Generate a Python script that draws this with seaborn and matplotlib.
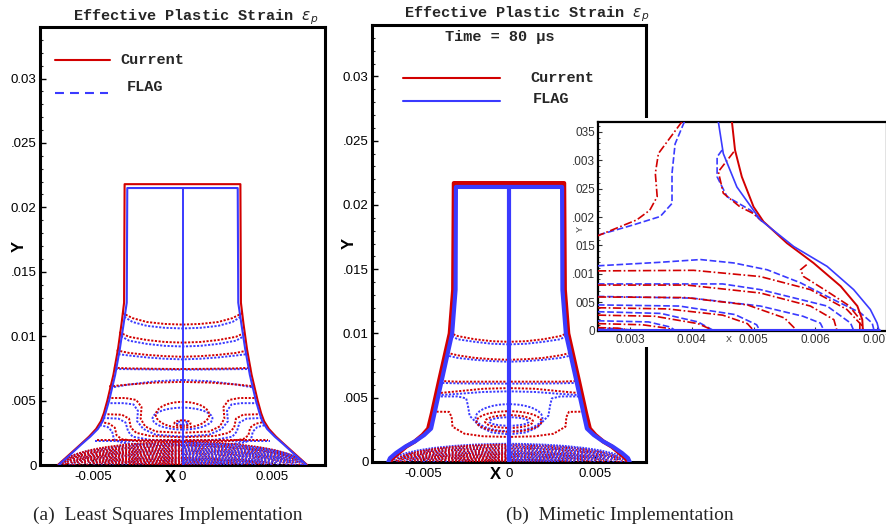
import numpy as np
import matplotlib
matplotlib.use("Agg")
import matplotlib.pyplot as plt
from matplotlib.patches import Arc, Ellipse, Rectangle
from matplotlib.ticker import MultipleLocator
import seaborn as sns

MM = 1e-3
RED = "#d20000"
BLUE = "#3a3aff"
DOT = (0, (1.1, 0.8))

# ---------------- data (millimetres, right half of the axisymmetric bar) ----------------
# (a) least squares implementation
PA_OUT_CUR_Y = [21.8, 12.6, 11.0, 9.0, 7.0, 5.0, 4.0, 3.4, 2.8, 2.2, 1.6, 1.0, 0.5, 0.15, 0.0]
PA_OUT_CUR_X = [3.25, 3.28, 3.42, 3.62, 3.88, 4.22, 4.42, 4.58, 4.85, 5.25, 5.72, 6.2, 6.6, 6.88, 7.0]
PA_OUT_FLAG_Y = [21.5, 12.6, 11.0, 9.0, 7.0, 5.0, 4.0, 3.4, 2.8, 2.2, 1.6, 1.0, 0.5, 0.15, 0.0]
PA_OUT_FLAG_X = [3.1, 3.13, 3.3, 3.52, 3.78, 4.12, 4.33, 4.48, 4.75, 5.18, 5.68, 6.15, 6.55, 6.85, 6.95]

PA_BANDS_CUR = [
    ([0, 1.0, 2.0, 2.8, 3.38], [10.9, 10.95, 11.1, 11.4, 11.8]),
    ([0, 1.0, 2.0, 3.0, 3.55], [9.5, 9.55, 9.7, 9.95, 10.3]),
    ([0, 1.0, 2.0, 3.0, 3.7], [8.4, 8.45, 8.55, 8.7, 8.9]),
    ([0, 1.5, 3.0, 3.85], [7.45, 7.47, 7.5, 7.55]),
    ([0, 1.5, 3.0, 4.12], [6.45, 6.4, 6.25, 6.1]),
    ([0, 2.0, 3.5, 4.8], [1.95, 1.95, 1.95, 1.95]),
]
PA_BANDS_FLAG = [
    ([0, 1.0, 2.0, 2.8, 3.27], [10.6, 10.65, 10.8, 11.1, 11.5]),
    ([0, 1.0, 2.0, 3.0, 3.45], [9.2, 9.25, 9.4, 9.65, 10.0]),
    ([0, 1.0, 2.0, 3.0, 3.6], [8.2, 8.25, 8.35, 8.5, 8.6]),
    ([0, 1.5, 3.0, 3.76], [7.4, 7.42, 7.44, 7.45]),
    ([0, 1.5, 3.0, 4.05], [6.6, 6.5, 6.25, 6.0]),
    ([0, 2.0, 3.5, 4.9], [1.85, 1.85, 1.85, 1.85]),
]
PA_S_CUR = [
    ([0, 1.5, 2.1, 2.35, 2.3, 2.6, 3.2, 4.2], [2.5, 2.6, 3.0, 3.6, 4.5, 5.05, 5.2, 5.2]),
    ([0, 1.8, 2.6, 2.9, 3.0, 3.4, 4.42], [2.15, 2.25, 2.5, 2.9, 3.6, 3.9, 3.95]),
    ([0, 2.5, 3.4, 3.7, 3.8, 4.1, 4.6], [1.8, 1.85, 2.0, 2.3, 2.9, 3.2, 3.35]),
]
PA_S_FLAG = [
    ([0, 1.5, 2.2, 2.55, 2.5, 2.75, 3.3, 4.25], [2.2, 2.35, 2.8, 3.4, 4.2, 4.7, 4.8, 4.8]),
    ([0, 1.8, 2.8, 3.05, 3.2, 3.6, 4.45], [1.9, 1.95, 2.2, 2.6, 3.3, 3.6, 3.65]),
    ([0, 2.5, 3.5, 3.85, 3.95, 4.2, 4.65], [1.55, 1.6, 1.75, 2.0, 2.6, 2.95, 3.1]),
]
# rings: (centre height, half width, half height)
PA_RINGS_CUR = [(3.9, 1.5, 1.0), (3.25, 0.45, 0.22)]
PA_RINGS_FLAG = [(3.6, 1.68, 0.85), (3.25, 0.32, 0.13)]
# nested domes at the impact face: height on axis, radius on the face
PA_DOME_CUR_H = [1.8, 1.66, 1.52, 1.4, 1.27, 1.14, 1.02, 0.9, 0.78, 0.66, 0.55, 0.44, 0.34, 0.24, 0.14, 0.06]
PA_DOME_CUR_W = [6.75, 6.65, 6.55, 6.45, 6.3, 6.15, 6.0, 5.8, 5.6, 5.35, 5.05, 4.7, 4.3, 3.8, 3.1, 2.2]
PA_DOME_FLAG_H = [1.72, 1.59, 1.46, 1.33, 1.2, 1.08, 0.96, 0.84, 0.72, 0.6, 0.49, 0.39, 0.29, 0.19, 0.1]
PA_DOME_FLAG_W = [6.85, 6.75, 6.65, 6.5, 6.35, 6.2, 6.05, 5.85, 5.6, 5.35, 5.0, 4.6, 4.1, 3.5, 2.7]

# (b) mimetic implementation
PB_OUT_CUR_Y = [21.7, 13.4, 10.0, 6.4, 3.8, 2.6, 2.1, 1.6, 1.2, 0.7, 0.3, 0.0]
PB_OUT_CUR_X = [3.22, 3.26, 3.46, 4.07, 4.5, 4.72, 5.05, 5.5, 6.0, 6.45, 6.8, 6.95]
PB_OUT_FLAG_Y = [21.4, 13.4, 10.0, 6.4, 3.8, 2.6, 2.1, 1.6, 1.2, 0.7, 0.3, 0.0]
PB_OUT_FLAG_X = [3.1, 3.12, 3.32, 3.92, 4.35, 4.55, 4.95, 5.5, 6.05, 6.6, 6.95, 7.05]

PB_BANDS_CUR = [
    ([0, 1.0, 2.0, 3.0, 3.45], [9.35, 9.4, 9.55, 9.8, 10.05]),
    ([0, 1.0, 2.0, 3.0, 3.62], [7.95, 8.0, 8.1, 8.3, 8.5]),
    ([0, 1.5, 3.0, 4.0], [6.25, 6.25, 6.25, 6.3]),
    ([0, 1.5, 3.0, 4.2], [5.75, 5.7, 5.5, 5.35]),
]
PB_BANDS_FLAG = [
    ([0, 1.0, 2.0, 3.0, 3.33], [9.15, 9.2, 9.35, 9.55, 9.8]),
    ([0, 1.0, 2.0, 3.0, 3.5], [7.8, 7.85, 7.95, 8.1, 8.25]),
    ([0, 1.5, 3.0, 3.9], [6.1, 6.1, 6.12, 6.15]),
    ([0, 1.5, 3.0, 4.15], [5.5, 5.45, 5.3, 5.2]),
]
PB_S_CUR = [
    ([0, 1.5, 2.6, 3.3, 3.35, 3.5, 4.45], [1.95, 2.0, 2.2, 2.75, 3.5, 3.9, 3.92]),
]
PB_S_FLAG = [
    ([0, 1.0, 1.65, 2.3, 2.4, 2.5, 3.0, 4.2], [2.15, 2.3, 2.7, 3.6, 4.4, 4.95, 5.1, 5.1]),
]
PB_RINGS_CUR = [(3.15, 1.9, 0.8), (3.15, 1.4, 0.5)]
PB_RINGS_FLAG = [(3.45, 1.95, 1.05), (3.15, 1.15, 0.33)]
PB_DOME_CUR_H = [1.35, 1.2, 1.05, 0.9, 0.76, 0.62, 0.5, 0.38, 0.27, 0.17, 0.08]
PB_DOME_CUR_W = [6.6, 6.45, 6.3, 6.1, 5.85, 5.55, 5.2, 4.75, 4.2, 3.5, 2.6]
PB_DOME_FLAG_H = [1.42, 1.28, 1.12, 0.97, 0.83, 0.69, 0.56, 0.44, 0.32, 0.21, 0.11]
PB_DOME_FLAG_W = [6.9, 6.75, 6.55, 6.35, 6.1, 5.8, 5.45, 5.0, 4.45, 3.8, 2.9]

# close-up of the foot of (b)
IN_OUT_CUR_X = [4.65, 4.70, 4.81, 5.0, 5.16, 5.54, 5.97, 6.41, 6.68, 6.76, 6.77]
IN_OUT_CUR_Y = [3.68, 3.18, 2.71, 2.18, 1.92, 1.54, 1.19, 0.78, 0.43, 0.19, 0.0]
IN_OUT_FLAG_X = [4.43, 4.51, 4.73, 5.11, 5.65, 6.19, 6.62, 6.89, 7.0, 7.03]
IN_OUT_FLAG_Y = [3.68, 3.12, 2.53, 1.95, 1.48, 1.13, 0.72, 0.37, 0.13, 0.0]
IN_CUR = [
    ([3.84, 3.46, 3.41, 3.44, 3.32, 3.11, 2.48], [3.68, 3.12, 2.77, 2.36, 2.12, 1.95, 1.67]),
    ([4.68, 4.43, 4.51, 4.78, 5.0, 5.14], [3.15, 2.8, 2.42, 2.18, 2.06, 1.92]),
    ([5.86, 5.76, 5.81, 6.19, 6.54, 6.72, 6.72], [1.16, 1.07, 0.95, 0.69, 0.44, 0.2, 0.0]),
    ([2.48, 4.03, 5.11, 5.92, 6.51, 6.76, 6.77], [1.05, 1.06, 0.95, 0.72, 0.37, 0.08, 0.0]),
    ([2.48, 3.92, 5.11, 5.92, 6.3, 6.35], [0.8, 0.8, 0.66, 0.43, 0.19, 0.0]),
    ([2.48, 3.9, 4.9, 5.5, 5.7], [0.59, 0.58, 0.45, 0.22, 0.0]),
    ([2.48, 3.6, 4.5, 4.9, 5.0], [0.4, 0.38, 0.27, 0.12, 0.0]),
    ([2.48, 3.4, 4.1, 4.35], [0.27, 0.25, 0.12, 0.0]),
    ([2.48, 3.2, 3.6, 3.73], [0.12, 0.1, 0.04, 0.0]),
    ([2.48, 2.8, 3.05], [0.05, 0.04, 0.0]),
]
IN_FLAG = [
    ([3.88, 3.73, 3.68, 3.68, 3.49, 3.05, 2.48], [3.68, 3.29, 2.77, 2.24, 2.01, 1.86, 1.68]),
    ([4.49, 4.41, 4.41, 4.57, 4.95, 5.11], [3.18, 3.06, 2.71, 2.36, 2.12, 1.95]),
    ([2.48, 3.46, 4.14, 4.68, 5.22, 5.76, 6.3, 6.73, 6.92, 6.95], [1.14, 1.2, 1.25, 1.19, 1.07, 0.84, 0.54, 0.31, 0.13, 0.0]),
    ([2.48, 4.5, 5.11, 6.19, 6.57, 6.62], [0.82, 0.82, 0.72, 0.43, 0.13, 0.0]),
    ([2.48, 4.0, 5.11, 5.8, 6.08, 6.14], [0.6, 0.57, 0.43, 0.25, 0.13, 0.0]),
    ([2.48, 3.8, 4.7, 5.05, 5.1], [0.45, 0.43, 0.28, 0.1, 0.0]),
    ([2.48, 3.5, 4.1, 4.35], [0.33, 0.3, 0.15, 0.0]),
    ([2.48, 3.3, 3.65, 3.73], [0.17, 0.15, 0.06, 0.0]),
    ([2.48, 2.85, 3.05], [0.04, 0.03, 0.0]),
]

Y_TICKS = [0, 0.005, 0.01, 0.015, 0.02, 0.025, 0.03]
Y_TICK_LABELS = ["0", ".005", "0.01", ".015", "0.02", ".025", "0.03"]
X_TICKS = [-0.005, 0, 0.005]
X_TICK_LABELS = ["-0.005", "0", "0.005"]
IN_Y_TICKS = [0, 0.0005, 0.001, 0.0015, 0.002, 0.0025, 0.003, 0.0035]
IN_Y_TICK_LABELS = ["0", "005", ".001", "015", ".002", "025", ".003", "035"]
IN_X_TICKS = [0.003, 0.004, 0.005, 0.006, 0.007]
IN_X_TICK_LABELS = ["0.003", "0.004", "0.005", "0.006", "0.007"]

# ---------------- drawing ----------------
sns.set_theme(style="ticks")
plt.rcParams["font.family"] = ["Liberation Sans", "DejaVu Sans"]
MONO = ["Liberation Mono", "DejaVu Sans Mono"]
# dot patterns of slightly different pitch for the crowded contours near the face
DOME_STYLES = [(0.0, (1.0, 0.62)), (0.5, (1.0, 0.95)), (0.2, (1.0, 0.74)),
               (0.8, (1.0, 1.1)), (0.35, (1.0, 0.83))]


def mirror(xs, ys):
    fx = [-v for v in xs[::-1]] + list(xs)
    fy = list(ys[::-1]) + list(ys)
    return np.array(fx) * MM, np.array(fy) * MM


def line(ax, x, y, color, ls="-", lw=1.4, z=3):
    sns.lineplot(x=x, y=y, sort=False, estimator=None, color=color,
                 linestyle=ls, linewidth=lw, zorder=z, ax=ax)


def domes(ax, hs, ws, color, left_on_top, lw=1.3):
    for i, (h, w) in enumerate(zip(hs, ws)):
        style = DOME_STYLES[i % len(DOME_STYLES)]
        for (t1, t2), top in (((90, 180), left_on_top), ((0, 90), not left_on_top)):
            ax.add_patch(Arc((0, 0), 2 * w * MM, 2 * h * MM, theta1=t1, theta2=t2,
                             edgecolor=color, lw=lw, ls=style, zorder=3.3 if top else 3.0))


def rings(ax, spec, color, lw=1.4):
    for cy, hw, hh in spec:
        ax.add_patch(Ellipse((0, cy * MM), 2 * hw * MM, 2 * hh * MM, fill=False,
                             edgecolor=color, lw=lw, ls=DOT, zorder=3.1))


def frame(ax, xlab_x, ylab_x):
    ax.set_xlim(-8 * MM, 8 * MM)
    ax.set_ylim(0, 34 * MM)
    ax.set_yticks(Y_TICKS)
    ax.set_yticklabels(Y_TICK_LABELS)
    ax.set_xticks(X_TICKS)
    ax.set_xticklabels(X_TICK_LABELS)
    ax.yaxis.set_minor_locator(MultipleLocator(0.001))
    ax.tick_params(which="major", direction="in", length=4, width=1, labelsize=9.5,
                   colors="black", pad=2.5)
    ax.tick_params(axis="x", which="major", pad=4)
    ax.tick_params(which="minor", direction="in", length=2.2, width=0.8, left=True)
    for s in ax.spines.values():
        s.set_linewidth(2.2)
        s.set_color("black")
    ax.set_xlabel("X", fontweight="bold", fontsize=12, color="black")
    ax.xaxis.set_label_coords(xlab_x, -0.012)
    ax.set_ylabel("Y", fontweight="bold", fontsize=12, color="black")
    ax.yaxis.set_label_coords(ylab_x, 0.5)


fig = plt.figure(figsize=(8.86, 5.28), dpi=100)
W, H = 886.0, 528.0
axA = fig.add_axes([40 / W, 63 / H, 285 / W, 438 / H])
axB = fig.add_axes([372 / W, 66 / H, 274 / W, 437 / H])


def panel(ax, out_cur, out_flag, bands_cur, bands_flag, s_cur, s_flag,
          rings_cur, rings_flag, dome_cur, dome_flag, out_lw, axis_lw, flag_ls):
    for xs, ys in bands_flag + s_flag:
        line(ax, *mirror(xs, ys), BLUE, DOT, 1.4, 3)
    for xs, ys in bands_cur + s_cur:
        line(ax, *mirror(xs, ys), RED, DOT, 1.4, 3.05)
    rings(ax, rings_flag, BLUE)
    rings(ax, rings_cur, RED)
    domes(ax, *dome_flag, BLUE, left_on_top=False)
    domes(ax, *dome_cur, RED, left_on_top=True)
    line(ax, *mirror(out_cur[0], out_cur[1]), RED, "-", out_lw, 4)
    line(ax, *mirror(out_flag[0], out_flag[1]), BLUE, flag_ls, out_lw, 4.1)
    line(ax, np.array([0.0, 0.0]), np.array([0.0, out_flag[1][0] * MM]), BLUE, "-", axis_lw, 4.2)


panel(axA, (PA_OUT_CUR_X, PA_OUT_CUR_Y), (PA_OUT_FLAG_X, PA_OUT_FLAG_Y),
      PA_BANDS_CUR, PA_BANDS_FLAG, PA_S_CUR, PA_S_FLAG, PA_RINGS_CUR, PA_RINGS_FLAG,
      (PA_DOME_CUR_H, PA_DOME_CUR_W), (PA_DOME_FLAG_H, PA_DOME_FLAG_W), 1.5, 1.4, "-")
panel(axB, (PB_OUT_CUR_X, PB_OUT_CUR_Y), (PB_OUT_FLAG_X, PB_OUT_FLAG_Y),
      PB_BANDS_CUR, PB_BANDS_FLAG, PB_S_CUR, PB_S_FLAG, PB_RINGS_CUR, PB_RINGS_FLAG,
      (PB_DOME_CUR_H, PB_DOME_CUR_W), (PB_DOME_FLAG_H, PB_DOME_FLAG_W), 3.0, 3.0, "-")

frame(axA, 0.456, -0.046)
frame(axB, 0.449, -0.055)

title = "Effective Plastic Strain $\\varepsilon_p$"
axA.text(0.545, 1.016, title, transform=axA.transAxes, ha="center", va="baseline",
         family=MONO, weight="bold", fontsize=11)
axB.text(0.566, 1.018, title, transform=axB.transAxes, ha="center", va="baseline",
         family=MONO, weight="bold", fontsize=11)
axB.text(0.467, 0.963, "Time = 80 \u00b5s", transform=axB.transAxes, ha="center",
         va="baseline", family=MONO, weight="bold", fontsize=11)

# legends
axA.plot([0.0526, 0.2456], [0.925, 0.925], transform=axA.transAxes, color=RED, lw=1.5)
axA.plot([0.0526, 0.2386], [0.849, 0.849], transform=axA.transAxes, color=BLUE, lw=1.5,
         ls=(0, (4.3, 2.9)))
axA.text(0.281, 0.925, "Current", transform=axA.transAxes, va="center", family=MONO,
         weight="bold", fontsize=11)
axA.text(0.305, 0.862, "FLAG", transform=axA.transAxes, va="center", family=MONO,
         weight="bold", fontsize=11)
axB.plot([0.113, 0.467], [0.879, 0.879], transform=axB.transAxes, color=RED, lw=1.5)
axB.plot([0.113, 0.467], [0.826, 0.826], transform=axB.transAxes, color=BLUE, lw=1.5)
axB.text(0.577, 0.879, "Current", transform=axB.transAxes, va="center", family=MONO,
         weight="bold", fontsize=11)
axB.text(0.588, 0.83, "FLAG", transform=axB.transAxes, va="center", family=MONO,
         weight="bold", fontsize=11)

# close-up, pasted over the right part of (b)
fig.add_artist(Rectangle((574 / W, (H - 347) / H), (W - 574) / W, (347 - 118) / H,
                         transform=fig.transFigure, facecolor="white", edgecolor="none",
                         zorder=2))
axI = fig.add_axes([598 / W, (H - 331) / H, 289 / W, 209 / H], zorder=3)
axI.set_facecolor("white")
for xs, ys in IN_FLAG:
    line(axI, np.array(xs) * MM, np.array(ys) * MM, BLUE, (0, (4, 1.6)), 1.2, 3)
for xs, ys in IN_CUR:
    line(axI, np.array(xs) * MM, np.array(ys) * MM, RED, (0, (5, 1.5, 1, 1.5)), 1.2, 3.1)
line(axI, np.array(IN_OUT_CUR_X) * MM, np.array(IN_OUT_CUR_Y) * MM, RED, "-", 1.4, 4)
line(axI, np.array(IN_OUT_FLAG_X) * MM, np.array(IN_OUT_FLAG_Y) * MM, BLUE, "-", 1.2, 4.1)
line(axI, np.array([2.48, 6.77]) * MM, np.array([0.0, 0.0]), RED, "-", 2.2, 4)
line(axI, np.array([2.48, 7.03]) * MM, np.array([0.0, 0.0]), BLUE, "-", 2.2, 4.1)
axI.set_xlim(2.482 * MM, 7.16 * MM)
axI.set_ylim(-0.01 * MM, 3.676 * MM)
axI.set_yticks(IN_Y_TICKS)
axI.set_yticklabels(IN_Y_TICK_LABELS)
axI.set_xticks(IN_X_TICKS)
axI.set_xticklabels(IN_X_TICK_LABELS)
axI.yaxis.set_minor_locator(MultipleLocator(0.0001))
axI.xaxis.set_minor_locator(MultipleLocator(0.0002))
axI.tick_params(which="major", direction="in", length=3, width=0.8, labelsize=8.5,
                colors="#333333", pad=2)
axI.tick_params(which="minor", direction="in", length=1.5, width=0.6, left=True, bottom=True)
for s in axI.spines.values():
    s.set_linewidth(1.6)
    s.set_color("black")
axI.set_xlabel("X", fontsize=6.5, color="#333333")
axI.xaxis.set_label_coords(0.453, -0.02)
axI.set_ylabel("Y", fontsize=6.5, color="#333333")
axI.yaxis.set_label_coords(-0.045, 0.49)

fig.text(168 / W, 1 - 515 / H, "(a)  Least Squares Implementation", ha="center",
         va="center", family=["Liberation Serif", "DejaVu Serif"], fontsize=14)
fig.text(620 / W, 1 - 515 / H, "(b)  Mimetic Implementation", ha="center",
         va="center", family=["Liberation Serif", "DejaVu Serif"], fontsize=14)

fig.savefig("out.png", dpi=100)
